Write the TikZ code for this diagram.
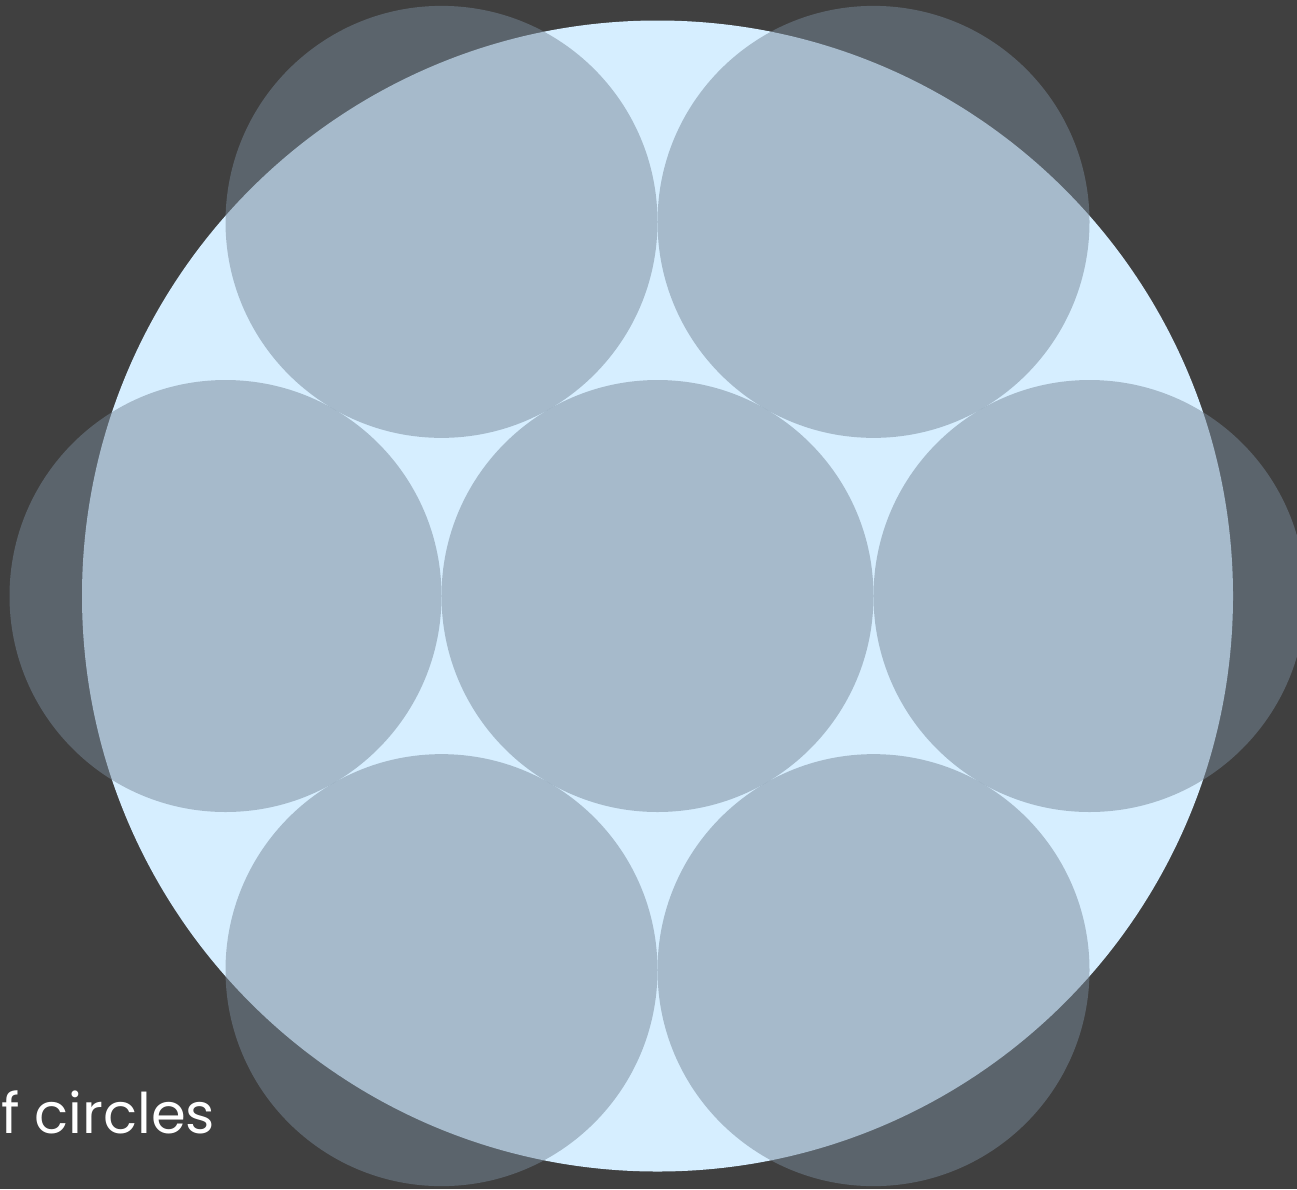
\documentclass[tikz,border=0pt]{standalone}
\usepackage{fontspec}
\usetikzlibrary{calc}
\setmainfont{Poppins}
\definecolor{bgdark}{RGB}{64,64,64}
\definecolor{bigblue}{RGB}{214,238,255}
\definecolor{slate}{RGB}{119,136,153}
\tikzset{
  disc/.style={fill=slate, fill opacity=0.5, draw=none},
  bigdisc/.style={fill=bigblue, draw=none},
  caption/.style={text=white, font=\fontsize{56}{64}\selectfont, inner sep=0pt}
}
\begin{document}
\begin{tikzpicture}[x=1pt,y=-1pt]
\useasboundingbox (0,0) rectangle (1297,1189);
\clip (0,0) rectangle (1297,1189);
\fill[bgdark] (0,0) rectangle (1297,1189);
\node[caption, anchor=base west] (cap) at (1,1133) {f circles};
\path[bigdisc] (657.5,596) circle[radius=575.5];
\coordinate (c0) at (657.5,596);
\foreach \a in {0,60,120,180,240,300}{
  \path[disc] ($(c0)+(\a:432)$) circle[radius=216];
}
\path[disc] (c0) circle[radius=216];
\end{tikzpicture}
\end{document}
